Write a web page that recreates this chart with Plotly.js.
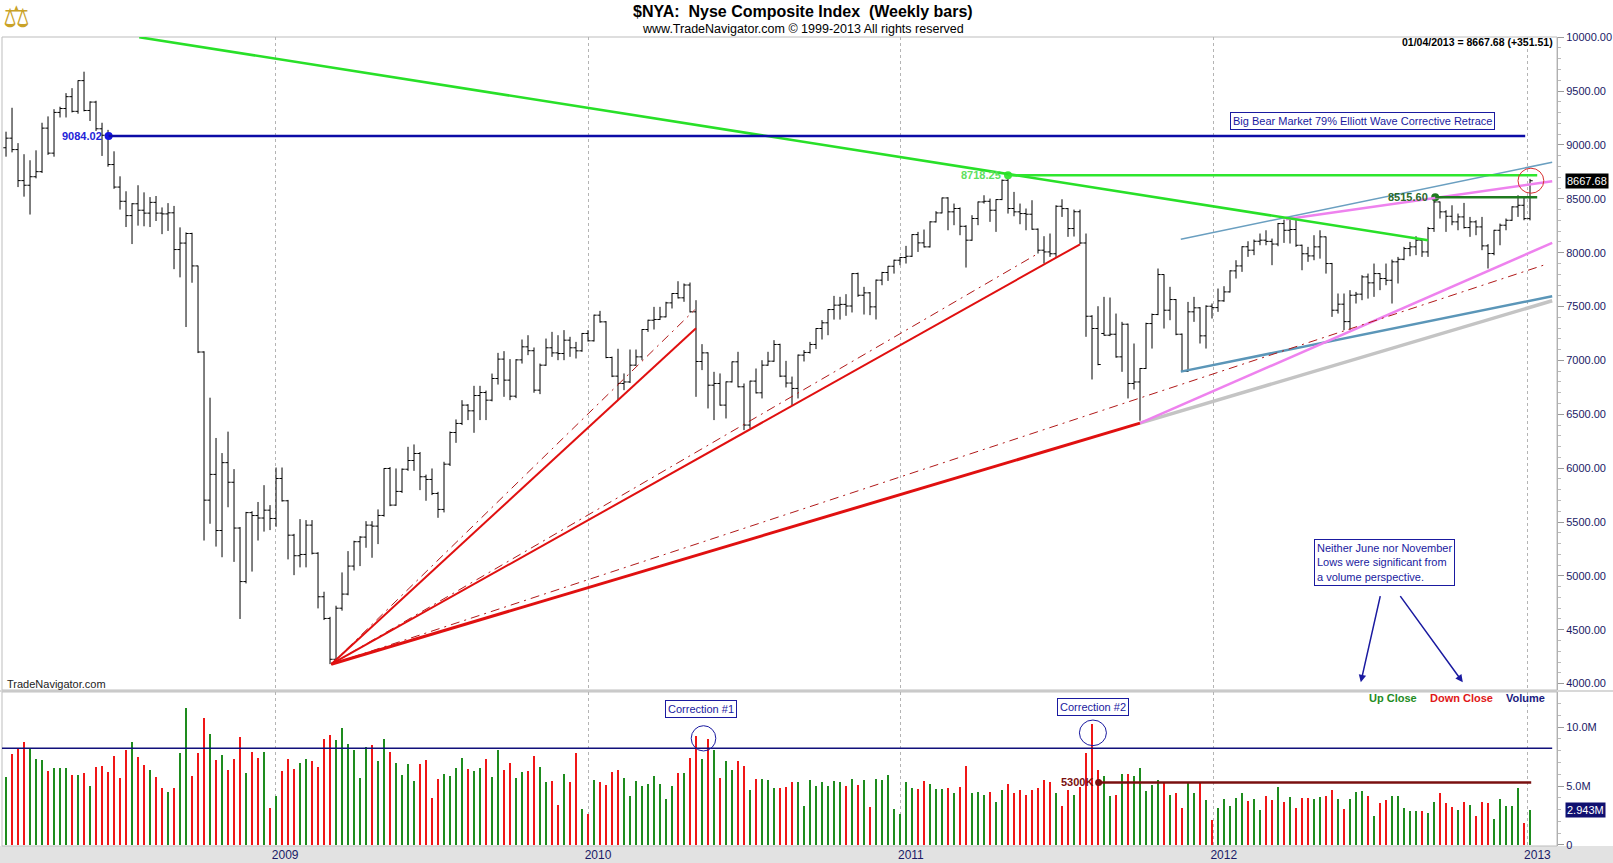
<!DOCTYPE html>
<html>
<head>
<meta charset="utf-8">
<script src="https://cdn.plot.ly/plotly-3.0.1.min.js"></script>
<style>
  html, body { margin: 0; padding: 0; background: #fff; }
  #chart { width: 1613px; height: 863px; }
</style>
</head>
<body>
<div id="chart"></div>
<script>
// Weekly bars of $NYA, first bar = week ending 2008-02-22, last = 2013-01-04
var firstWeek = Date.UTC(2008, 1, 22);

var opens = [
  8974, 9063, 8957, 8669, 8626, 8705, 8752, 9156, 8924, 9302,
  9338, 9448, 9312, 9597, 9320, 9398, 9150, 9090, 8818, 8609,
  8477, 8344, 8454, 8394, 8367, 8467, 8367, 8360, 8370, 8029,
  8089, 8178, 7877, 7078, 5703, 5942, 5421, 6051, 5869, 5444,
  4947, 5587, 5560, 5537, 5610, 5533, 5904, 5697, 5378, 5187,
  5199, 5471, 5210, 4806, 4605, 4226, 4700, 4831, 5091, 5317,
  5360, 5471, 5462, 5561, 5997, 5657, 5784, 5990, 6071, 6136,
  5920, 5895, 5765, 5617, 6037, 6331, 6415, 6585, 6532, 6674,
  6702, 6631, 6832, 7012, 6817, 6668, 7005, 7126, 7090, 6724,
  6956, 7117, 7070, 7064, 7188, 7117, 7089, 7250, 7182, 7420,
  7358, 7027, 6854, 6786, 6800, 6956, 7033, 7287, 7373, 7380,
  7404, 7534, 7621, 7581, 7700, 7451, 6990, 7070, 6770, 6786,
  6585, 6801, 6987, 6755, 6400, 6808, 6699, 6956, 6993, 7148,
  6854, 6790, 6740, 7049, 7074, 7148, 7296, 7349, 7472, 7513,
  7520, 7505, 7806, 7605, 7627, 7497, 7745, 7816, 7874, 7930,
  7955, 7967, 8168, 8091, 8054, 8286, 8369, 8508, 8379, 8410,
  8245, 8116, 8317, 8471, 8477, 8394, 8493, 8672, 8410, 8379,
  8363, 8357, 8218, 8023, 8007, 7990, 8431, 8409, 8224, 8380,
  8090, 7410, 7296, 7250, 7234, 7243, 7033, 7336, 6786, 6800,
  6925, 7342, 7426, 7797, 7466, 7565, 7243, 6900, 7451, 7488,
  7228, 7503, 7490, 7553, 7636, 7831, 7877, 8055, 8023, 8106,
  8116, 8105, 8080, 8270, 8208, 8215, 8069, 7990, 7970, 8054,
  8147, 7899, 7466, 7522, 7360, 7605, 7615, 7775, 7720, 7806,
  7760, 7744, 7915, 7939, 8038, 8054, 8116, 8007, 8224, 8471,
  8379, 8338, 8286, 8332, 8233, 8286, 8239, 8063, 7992, 8208,
  8255, 8301, 8425, 8440, 8316.17
];
var highs = [
  9123, 9345, 9017, 8914, 8858, 8950, 9206, 9265, 9332, 9355,
  9481, 9527, 9600, 9680, 9405, 9410, 9206, 9140, 8941, 8709,
  8570, 8460, 8626, 8560, 8516, 8526, 8420, 8460, 8434, 8235,
  8188, 8185, 7880, 7085, 6654, 6280, 6140, 6339, 5991, 5454,
  5594, 5600, 5686, 5842, 5657, 6006, 6006, 5705, 5390, 5527,
  5518, 5518, 5220, 4853, 4620, 4723, 5032, 5230, 5326, 5369,
  5508, 5508, 5617, 6000, 6010, 5997, 5997, 6198, 6220, 6150,
  5940, 5997, 5780, 6059, 6340, 6452, 6631, 6594, 6764, 6764,
  6720, 6878, 7070, 7086, 7012, 7012, 7194, 7234, 7120, 6971,
  7203, 7265, 7234, 7281, 7219, 7172, 7255, 7281, 7425, 7460,
  7365, 7035, 7108, 6879, 7101, 7101, 7290, 7378, 7497, 7497,
  7544, 7625, 7735, 7714, 7723, 7559, 7151, 7075, 6894, 6879,
  6805, 6990, 7080, 6786, 6812, 6925, 7002, 7080, 7188, 7155,
  6996, 6850, 7055, 7095, 7172, 7300, 7374, 7476, 7599, 7590,
  7615, 7810, 7815, 7683, 7635, 7751, 7822, 7877, 7935, 7960,
  8063, 8172, 8193, 8215, 8292, 8385, 8512, 8515, 8456, 8420,
  8255, 8348, 8475, 8533, 8502, 8497, 8679, 8718, 8564, 8456,
  8410, 8487, 8225, 8153, 8178, 8440, 8496, 8415, 8400, 8400,
  8178, 7420, 7503, 7590, 7584, 7435, 7358, 7342, 7157, 6930,
  7350, 7435, 7853, 7800, 7683, 7570, 7250, 7543, 7590, 7495,
  7512, 7528, 7667, 7689, 7837, 7930, 8060, 8106, 8122, 8178,
  8208, 8131, 8276, 8307, 8307, 8307, 8075, 8054, 8162, 8208,
  8150, 7905, 7621, 7621, 7652, 7636, 7791, 7806, 7899, 7810,
  7899, 7936, 7961, 8054, 8100, 8153, 8120, 8239, 8515.6, 8475,
  8394, 8440, 8363, 8462, 8332, 8301, 8332, 8079, 8212, 8270,
  8317, 8431, 8533, 8518, 8685
];
var lows = [
  8891, 8931, 8609, 8520, 8354, 8690, 8740, 8908, 8891, 9255,
  9255, 9302, 9290, 9312, 9222, 9130, 8898, 8798, 8593, 8400,
  8238, 8080, 8251, 8245, 8238, 8294, 8172, 8202, 7847, 7771,
  7310, 7721, 7068, 5328, 5484, 5272, 5173, 5637, 5130, 4600,
  4930, 5040, 5328, 5411, 5425, 5456, 5690, 5153, 5007, 5079,
  5079, 5199, 4698, 4590, 4181, 4195, 4677, 4820, 5050, 5091,
  5261, 5168, 5295, 5550, 5647, 5650, 5770, 5975, 5975, 5796,
  5697, 5750, 5539, 5589, 6020, 6235, 6400, 6446, 6328, 6446,
  6446, 6620, 6776, 6662, 6631, 6650, 6971, 7049, 6700, 6687,
  6950, 7033, 7002, 7002, 7033, 7018, 7080, 7175, 7175, 7350,
  7020, 6845, 6631, 6724, 6790, 6950, 7002, 7265, 7287, 7375,
  7400, 7482, 7575, 7544, 7445, 6662, 6910, 6554, 6446, 6580,
  6461, 6795, 6750, 6353, 6368, 6693, 6647, 6950, 6987, 6845,
  6749, 6585, 6647, 6990, 7064, 7105, 7194, 7234, 7379, 7379,
  7414, 7445, 7590, 7426, 7420, 7380, 7698, 7738, 7806, 7884,
  7899, 7960, 8007, 8048, 8048, 8280, 8365, 8208, 8255, 8162,
  7862, 8110, 8255, 8456, 8286, 8193, 8488, 8363, 8338, 8264,
  8208, 8212, 7992, 7899, 7961, 7961, 8332, 8147, 8150, 8079,
  7219, 6823, 6955, 7230, 7225, 7025, 6894, 6647, 6730, 6440,
  6920, 7110, 7420, 7296, 7373, 7234, 6894, 6894, 7358, 7157,
  7110, 7389, 7451, 7544, 7630, 7760, 7822, 7961, 7977, 8069,
  8069, 7884, 8060, 8091, 8085, 8054, 7837, 7915, 7930, 7945,
  7806, 7404, 7435, 7281, 7281, 7528, 7559, 7574, 7590, 7652,
  7698, 7528, 7714, 7930, 7967, 7977, 7961, 7961, 8193, 8317,
  8193, 8255, 8208, 8224, 8147, 8162, 8023, 7853, 7976, 8069,
  8208, 8295, 8332, 8301, 8300
];
var closes = [
  9063, 8957, 8669, 8626, 8705, 8752, 9156, 8924, 9302, 9338,
  9448, 9312, 9597, 9320, 9398, 9150, 9090, 8818, 8609, 8477,
  8344, 8454, 8394, 8367, 8467, 8367, 8360, 8370, 8029, 8089,
  8178, 7877, 7078, 5703, 5942, 5421, 6051, 5869, 5444, 4947,
  5587, 5560, 5537, 5610, 5533, 5904, 5697, 5378, 5187, 5199,
  5471, 5210, 4806, 4605, 4226, 4700, 4831, 5091, 5317, 5360,
  5471, 5462, 5561, 5997, 5657, 5784, 5990, 6071, 6136, 5920,
  5895, 5765, 5617, 6037, 6331, 6415, 6585, 6532, 6674, 6702,
  6631, 6832, 7012, 6817, 6668, 7005, 7126, 7090, 6724, 6956,
  7117, 7070, 7064, 7188, 7117, 7089, 7250, 7182, 7420, 7358,
  7027, 6854, 6786, 6800, 6956, 7033, 7287, 7373, 7380, 7404,
  7534, 7621, 7581, 7700, 7451, 6990, 7070, 6770, 6786, 6585,
  6801, 6987, 6755, 6400, 6808, 6699, 6956, 6993, 7148, 6854,
  6790, 6740, 7049, 7074, 7148, 7296, 7349, 7472, 7513, 7520,
  7505, 7806, 7605, 7627, 7497, 7745, 7816, 7874, 7930, 7955,
  7967, 8168, 8091, 8054, 8286, 8369, 8508, 8379, 8410, 8245,
  8116, 8317, 8471, 8477, 8394, 8493, 8672, 8410, 8379, 8363,
  8357, 8218, 8023, 8007, 7990, 8431, 8409, 8224, 8380, 8090,
  7410, 7296, 6962, 7234, 7243, 7033, 7336, 6786, 6800, 6925,
  7342, 7426, 7797, 7466, 7565, 7243, 6900, 7451, 7488, 7228,
  7503, 7490, 7553, 7636, 7831, 7877, 8055, 8023, 8106, 8116,
  8105, 8080, 8270, 8208, 8215, 8069, 7990, 7970, 8054, 8147,
  7899, 7466, 7522, 7360, 7605, 7615, 7775, 7720, 7806, 7760,
  7744, 7915, 7939, 8038, 8054, 8116, 8007, 8224, 8471, 8379,
  8338, 8286, 8332, 8233, 8286, 8239, 8063, 7992, 8208, 8255,
  8301, 8425, 8440, 8316.17, 8667.68
];
// weekly volume, millions
var volumes = [
  5.73, 7.68, 8.25, 8.76, 8.25, 7.26, 7.18, 6.24, 6.5, 6.5,
  6.5, 5.93, 5.93, 6.07, 5.0, 6.58, 6.69, 6.16, 7.54, 5.65,
  8.02, 8.7, 7.46, 6.75, 6.33, 5.73, 4.8, 4.46, 4.8, 7.77,
  11.58, 5.82, 7.77, 10.73, 9.38, 7.18, 7.6, 6.33, 7.26, 9.12,
  6.07, 7.85, 7.4, 7.85, 3.11, 4.12, 6.24, 7.26, 6.41, 6.92,
  7.26, 7.09, 6.58, 8.95, 9.29, 8.87, 9.89, 8.53, 8.02, 5.65,
  8.28, 8.45, 7.09, 8.95, 7.85, 6.92, 5.9, 6.84, 5.4, 6.84,
  7.18, 3.95, 5.56, 5.99, 5.82, 6.5, 7.34, 6.41, 6.24, 6.5,
  7.26, 5.73, 8.02, 6.33, 6.92, 5.65, 6.16, 6.24, 7.51, 6.58,
  5.31, 5.4, 3.36, 5.99, 5.31, 7.77, 3.02, 2.6, 5.48, 5.31,
  5.06, 6.16, 6.33, 5.65, 4.12, 5.4, 4.97, 5.14, 5.82, 5.14,
  3.87, 4.97, 6.07, 6.07, 7.34, 9.21, 7.26, 8.95, 8.02, 5.65,
  7.09, 6.33, 7.09, 6.67, 4.63, 5.56, 5.56, 5.48, 4.8, 4.8,
  4.89, 5.31, 5.31, 3.28, 5.48, 5.0, 5.31, 5.0, 5.45, 5.31,
  5.0, 5.56, 5.08, 5.48, 3.19, 5.56, 5.48, 5.9, 3.02, 2.6,
  5.31, 4.8, 4.72, 5.4, 5.14, 4.72, 4.72, 4.8, 4.41, 4.89,
  6.67, 4.41, 4.46, 4.21, 4.52, 3.62, 4.63, 5.14, 4.38, 4.63,
  4.21, 4.63, 4.8, 5.48, 5.31, 4.41, 3.28, 4.63, 4.21, 4.89,
  7.77, 10.28, 6.33, 5.82, 4.12, 4.21, 5.99, 5.99, 5.82, 6.5,
  4.55, 5.06, 5.48, 5.23, 4.21, 4.38, 3.11, 5.23, 4.38, 5.31,
  3.79, 2.09, 3.11, 3.87, 3.28, 3.95, 4.38, 3.7, 3.87, 2.94,
  4.12, 3.79, 4.89, 3.62, 4.04, 3.11, 3.95, 3.95, 3.87, 4.04,
  4.12, 4.63, 3.87, 3.02, 3.87, 4.46, 4.55, 4.12, 2.43, 3.53,
  3.79, 4.12, 4.12, 3.11, 2.85, 2.85, 2.85, 2.68, 3.62, 4.38,
  3.53, 3.19, 2.94, 3.62, 3.36, 2.43, 3.62, 3.53, 2.18, 3.87,
  3.28, 3.28, 4.8, 1.84, 2.943
];
var yearTicks = ['2009-01-01', '2010-01-01', '2011-01-01', '2012-01-01', '2013-01-01'];
var yearLabels = ['2009', '2010', '2011', '2012', '2013'];

// bar number (1-based, may be fractional) -> date string
function wk(i) {
  var d = new Date(firstWeek + (i - 1) * 7 * 86400000);
  return d.toISOString().replace('T', ' ').slice(0, 19);
}
// pixel helpers for paper-positioned texts
function px(X) { return (X - 2) / 1555; }
function py(Y) { return (846 - Y) / 809; }

var dates = closes.map(function(c, k) { return wk(k + 1); });
var volColors = closes.map(function(c, k) {
  var prev = k > 0 ? closes[k - 1] : opens[0];
  return c >= prev ? '#1e8c1e' : '#f01616';
});

var NAVY = '#1a1aa0';
var FONT = 'Liberation Sans, Arial, sans-serif';

var priceTrace = {
  type: 'ohlc', x: dates, open: opens, high: highs, low: lows, close: closes,
  xaxis: 'x', yaxis: 'y',
  increasing: {line: {color: '#000', width: 1}},
  decreasing: {line: {color: '#000', width: 1}},
  tickwidth: 0.45, hoverinfo: 'skip', showlegend: false
};
var volTrace = {
  type: 'bar', x: dates, y: volumes, xaxis: 'x', yaxis: 'y2',
  marker: {color: volColors, line: {width: 0}},
  width: 3.3 * 86400000, hoverinfo: 'skip', showlegend: false
};
var levelDots = {
  type: 'scatter', mode: 'markers', xaxis: 'x', yaxis: 'y',
  x: [wk(18.1), wk(168), wk(239.2)], y: [9084.02, 8718.25, 8515.60],
  marker: {size: 8, color: ['#1414e0', '#3ce63c', '#1f7a1f']},
  hoverinfo: 'skip', showlegend: false
};
var volDot = {
  type: 'scatter', mode: 'markers', xaxis: 'x', yaxis: 'y2',
  x: [wk(183.1)], y: [5.3],
  marker: {size: 7, color: '#7a1010'}, hoverinfo: 'skip', showlegend: false
};

function seg(i0, p0, i1, p1, color, width, dash, yref) {
  return {type: 'line', xref: 'x', yref: yref || 'y', layer: 'above',
    x0: wk(i0), y0: p0, x1: wk(i1), y1: p1,
    line: {color: color, width: width, dash: dash || 'solid'}};
}
var ddash = '9px,5px,2px,5px';
var pivotI = 55.2, pivotP = 4180;

var shapes = [
  // panel frames and grey strips
  {type: 'rect', xref: 'paper', yref: 'paper', x0: -0.002, x1: 1.04, y0: -0.03, y1: 0,
    fillcolor: '#e2e2e2', line: {width: 0}, layer: 'below'},
  {type: 'rect', xref: 'paper', yref: 'paper', x0: -0.002, x1: 1.04, y0: 0.1904, y1: 0.1928,
    fillcolor: '#d8d8d8', line: {width: 0}, layer: 'below'},
  {type: 'rect', xref: 'paper', yref: 'paper', x0: 0, x1: 1, y0: 0.1928, y1: 1,
    line: {color: '#bdbdbd', width: 1}, layer: 'below'},
  {type: 'rect', xref: 'paper', yref: 'paper', x0: 0, x1: 1, y0: 0, y1: 0.1904,
    line: {color: '#bdbdbd', width: 1}, layer: 'below'},

  // channel lines
  seg(190, 6418, 258.7, 7554, '#c4c4c4', 3.5),
  seg(196.8, 6896, 258.7, 7596, '#5b96b8', 2.5),
  seg(196.8, 8125, 258.7, 8839, '#6a9fc0', 1.5),
  seg(190, 6418, 258.7, 8091, '#ee82ee', 2.5),
  seg(214.3, 8310, 258.7, 8663, '#ee82ee', 2.5),

  // red fan from the March 2009 low
  seg(pivotI, pivotP, 115.8, 7470, '#b01818', 1, ddash),
  seg(pivotI, pivotP, 172.5, 7976, '#b01818', 1, ddash),
  seg(pivotI, pivotP, 257.2, 7883, '#b01818', 1, ddash),
  seg(pivotI, pivotP, 116, 7299, '#e01010', 2),
  seg(pivotI, pivotP, 180, 8078, '#e01010', 2),
  seg(pivotI, pivotP, 190, 6418, '#e01010', 3),

  // long green down trend
  seg(23.2, 10000, 238, 8116, '#28e028', 2.5),

  // level lines
  seg(18.1, 9084.02, 254.2, 9084.02, '#0c0ca6', 2.5),
  seg(168, 8718.25, 256.2, 8718.25, '#2ee62e', 2.5),
  seg(239.2, 8515.60, 256.2, 8515.60, '#1f7a1f', 2.5),

  {type: 'circle', xref: 'x', yref: 'y', x0: wk(253.0), x1: wk(257.3), y0: 8552, y1: 8784,
    line: {color: '#d83030', width: 1}},

  // volume panel
  seg(0.33, 8.2, 258.7, 8.2, '#10107a', 1.5, 'solid', 'y2'),
  seg(183.1, 5.3, 255.2, 5.3, '#7a1010', 2.5, 'solid', 'y2'),
  {type: 'circle', xref: 'x', yref: 'y2', x0: wk(115.2), x1: wk(119.3), y0: 7.97, y1: 10.11,
    line: {color: NAVY, width: 1}},
  {type: 'circle', xref: 'x', yref: 'y2', x0: wk(179.9), x1: wk(184.4), y0: 8.42, y1: 10.59,
    line: {color: NAVY, width: 1}}
];

function boxNote(x, y, text, yref, extra) {
  var a = {xref: 'x', yref: yref || 'y', x: x, y: y, text: text, showarrow: false,
    xanchor: 'center', yanchor: 'middle',
    font: {family: FONT, size: 11, color: NAVY}, bgcolor: '#fff',
    bordercolor: NAVY, borderwidth: 1, borderpad: 2};
  for (var k in extra) a[k] = extra[k];
  return a;
}
function paperText(X, Y, text, size, color, xanchor, family) {
  return {xref: 'paper', yref: 'paper', x: px(X), y: py(Y), text: text, showarrow: false,
    xanchor: xanchor || 'center', yanchor: 'middle',
    font: {family: family || FONT, size: size, color: color}};
}

var annotations = [
  paperText(16, 16, '\u2696', 30, '#c9a227', 'center', 'DejaVu Sans'),
  paperText(803, 11.5, '<b>$NYA:\u00a0 Nyse Composite Index\u00a0 (Weekly bars)</b>', 16, '#000'),
  paperText(803, 29, 'www.TradeNavigator.com \u00a9 1999-2013 All rights reserved', 12.5, '#000'),
  paperText(1555, 42, '<b>01/04/2013 = 8667.68 (+351.51)</b>', 10.5, '#000', 'right'),
  paperText(5, 684, 'TradeNavigator.com', 11, '#222', 'left'),

  // level labels
  {xref: 'x', yref: 'y', x: wk(18.1), y: 9084.02, xanchor: 'right', yanchor: 'middle', xshift: -5,
    showarrow: false, text: '<b>9084.02</b>', font: {family: FONT, size: 11, color: '#2424d8'}},
  {xref: 'x', yref: 'y', x: wk(168), y: 8718.25, xanchor: 'right', yanchor: 'middle', xshift: -5,
    showarrow: false, text: '<b>8718.25</b>', font: {family: FONT, size: 11, color: '#5ee05e'}},
  {xref: 'x', yref: 'y', x: wk(239.2), y: 8515.60, xanchor: 'right', yanchor: 'middle', xshift: -5,
    showarrow: false, text: '<b>8515.60</b>', font: {family: FONT, size: 11, color: '#2a6a2a'}},
  {xref: 'x', yref: 'y2', x: wk(183.1), y: 5.3, xanchor: 'right', yanchor: 'middle', xshift: -4,
    showarrow: false, text: '<b>5300K</b>', font: {family: FONT, size: 11, color: '#7a1010'}},

  // comment boxes
  boxNote(wk(227), 9224, 'Big Bear Market 79% Elliott Wave Corrective Retrace'),
  boxNote(wk(219), 5128, 'Neither June nor November<br>Lows were significant from<br>a volume perspective.',
    'y', {xanchor: 'left', align: 'left'}),
  {xref: 'x', yref: 'y', axref: 'x', ayref: 'y', x: wk(226.8), y: 4012, ax: wk(230.1), ay: 4826,
    text: '', showarrow: true, arrowhead: 2, arrowsize: 1, arrowwidth: 1.5, arrowcolor: NAVY},
  {xref: 'x', yref: 'y', axref: 'x', ayref: 'y', x: wk(243.8), y: 4012, ax: wk(233.2), ay: 4826,
    text: '', showarrow: true, arrowhead: 2, arrowsize: 1, arrowwidth: 1.5, arrowcolor: NAVY},
  boxNote(wk(116.8), 11.5, 'Correction #1', 'y2'),
  boxNote(wk(182.2), 11.7, 'Correction #2', 'y2'),

  // volume legend
  {xref: 'x', yref: 'y2', x: wk(232.2), y: 12.43, xanchor: 'center', yanchor: 'middle', showarrow: false,
    text: '<b>Up Close</b>', font: {family: FONT, size: 11, color: '#1e8c1e'}},
  {xref: 'x', yref: 'y2', x: wk(243.5), y: 12.43, xanchor: 'center', yanchor: 'middle', showarrow: false,
    text: '<b>Down Close</b>', font: {family: FONT, size: 11, color: '#e01818'}},
  {xref: 'x', yref: 'y2', x: wk(254.2), y: 12.43, xanchor: 'center', yanchor: 'middle', showarrow: false,
    text: '<b>Volume</b>', font: {family: FONT, size: 11, color: '#1a1a80'}},

  // last value flags on the right axes
  {xref: 'paper', yref: 'y', x: px(1565), y: closes[closes.length - 1], xanchor: 'left', yanchor: 'middle',
    showarrow: false, text: closes[closes.length - 1].toFixed(2), bgcolor: '#000', borderpad: 1,
    font: {family: FONT, size: 11, color: '#fff'}},
  {xref: 'paper', yref: 'y2', x: px(1565), y: volumes[volumes.length - 1], xanchor: 'left', yanchor: 'middle',
    showarrow: false, text: volumes[volumes.length - 1].toFixed(3) + 'M', bgcolor: '#101070',
    borderpad: 1, font: {family: FONT, size: 11, color: '#fff'}}
];

var layout = {
  width: 1613, height: 863, autosize: false,
  margin: {l: 2, r: 56, t: 37, b: 17},
  paper_bgcolor: '#fff', plot_bgcolor: '#fff',
  font: {family: FONT, size: 11, color: '#1a1a66'},
  showlegend: false, hovermode: false, bargap: 0,
  xaxis: {
    type: 'date', range: [wk(0.33), wk(259.5)], anchor: 'y2',
    tickmode: 'array', tickvals: yearTicks, ticktext: yearLabels,
    showgrid: true, gridcolor: '#b4b4b4', griddash: '3px,3px', gridwidth: 1,
    ticks: '', ticklabelshift: 10, tickfont: {size: 12, color: '#1a1a66'},
    showline: false, zeroline: false, rangeslider: {visible: false}, fixedrange: true
  },
  yaxis: {
    domain: [0.1928, 1], range: [3940.5, 10002], side: 'right', anchor: 'x',
    tickmode: 'linear', tick0: 4000, dtick: 500, tickformat: '.2f',
    ticks: 'outside', ticklen: 6, tickcolor: '#9a9a9a',
    minor: {tickmode: 'linear', tick0: 0, dtick: 100, ticks: 'outside', ticklen: 3, tickcolor: '#bbbbbb', showgrid: false},
    showgrid: false, zeroline: false, showline: true, linecolor: '#b0b0b0',
    tickfont: {size: 11, color: '#1a1a66'}, fixedrange: true
  },
  yaxis2: {
    domain: [0, 0.1904], range: [-0.085, 12.97], side: 'right', anchor: 'x',
    tickmode: 'array', tickvals: [0, 5, 10], ticktext: ['0', '5.0M', '10.0M'],
    ticks: 'outside', ticklen: 6, tickcolor: '#9a9a9a',
    minor: {tickmode: 'linear', tick0: 0, dtick: 1, ticks: 'outside', ticklen: 3, tickcolor: '#bbbbbb', showgrid: false},
    showgrid: false, zeroline: false, showline: true, linecolor: '#b0b0b0',
    tickfont: {size: 11, color: '#1a1a66'}, fixedrange: true
  },
  shapes: shapes,
  annotations: annotations
};

Plotly.newPlot('chart', [volTrace, priceTrace, levelDots, volDot], layout,
  {staticPlot: true, displayModeBar: false});
</script>
</body>
</html>
